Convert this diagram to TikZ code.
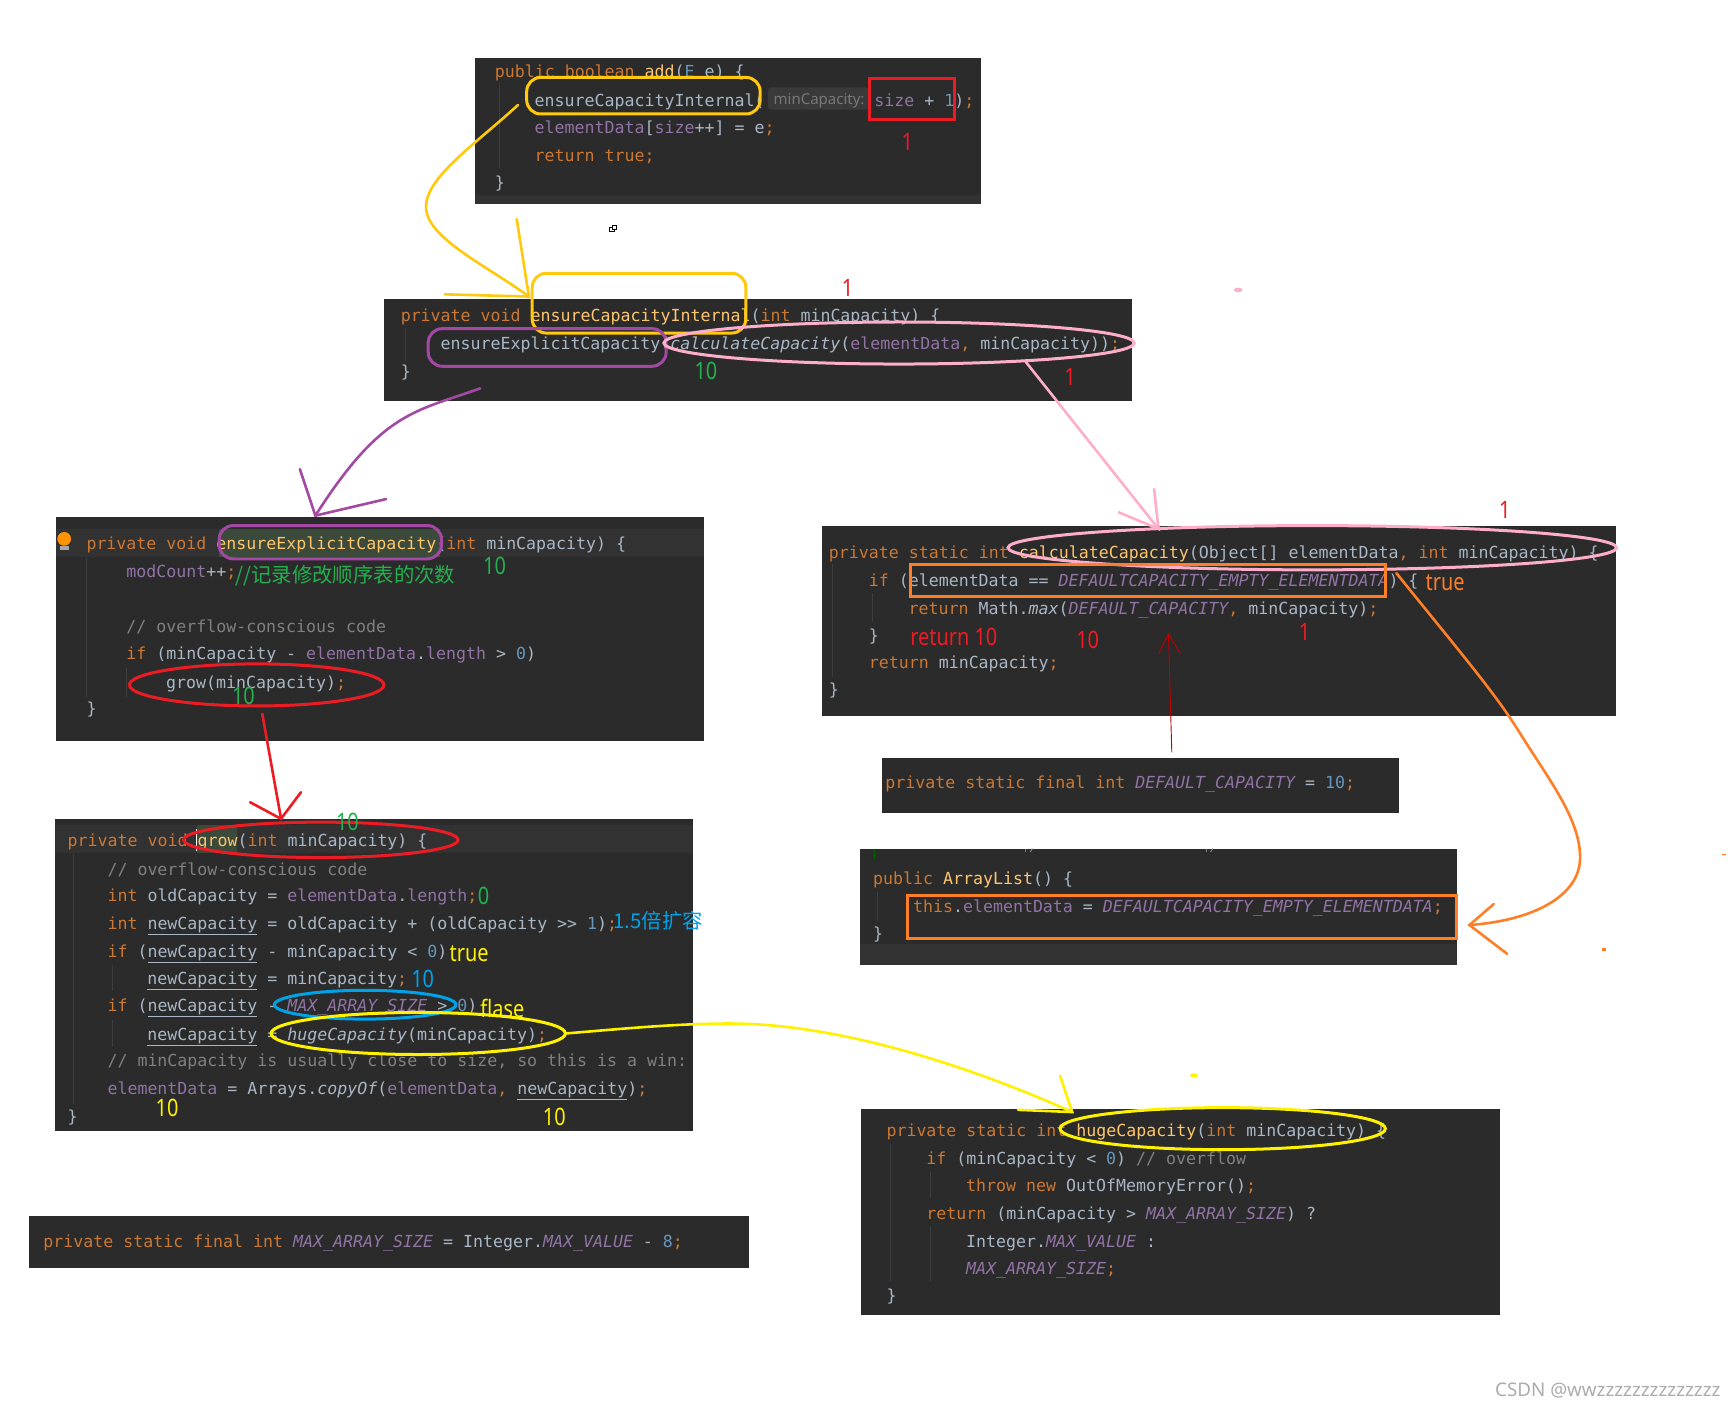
\documentclass[tikz,border=0pt]{standalone}
\usepackage{fontspec}
\usetikzlibrary{fit,shapes.geometric}
\newfontfamily\codefont{DejaVu Sans Mono}
\newfontfamily\handfont{Noto Sans CJK SC}
\newfontfamily\hintfont{Noto Sans}
\definecolor{panelbg}{HTML}{2B2B2B}
\definecolor{panellight}{HTML}{323232}
\definecolor{guide}{HTML}{3D3D3D}
\definecolor{chipbg}{HTML}{3A3A3A}
\definecolor{chipfg}{HTML}{787878}
\definecolor{codefg}{HTML}{A9B7C6}
\definecolor{kwcol}{HTML}{CC7832}
\definecolor{fldcol}{HTML}{9173A5}
\definecolor{numcol}{HTML}{6897BB}
\definecolor{comcol}{HTML}{808080}
\definecolor{metcol}{HTML}{FFC66D}
\definecolor{inkgold}{HTML}{FFC90E}
\definecolor{inkred}{HTML}{ED1C24}
\definecolor{inkpurple}{HTML}{A349A4}
\definecolor{inkpink}{HTML}{FFAEC9}
\definecolor{inkorange}{HTML}{FF7F27}
\definecolor{inkyellow}{HTML}{FFF200}
\definecolor{inkblue}{HTML}{00A2E8}
\definecolor{inkgreen}{HTML}{22B14C}
\definecolor{matchbg}{HTML}{3B4A3B}
\newcommand{\ckw}[1]{\textcolor{kwcol}{#1}}
\newcommand{\cfld}[1]{\textcolor{fldcol}{#1}}
\newcommand{\cital}[1]{\textcolor{fldcol}{\itshape #1}}
\newcommand{\cnum}[1]{\textcolor{numcol}{#1}}
\newcommand{\ccom}[1]{\textcolor{comcol}{#1}}
\newcommand{\cmet}[1]{\textcolor{metcol}{#1}}
\newcommand{\cund}[1]{\underline{#1}}
\newcommand{\codeline}[4]{\node[codeline] (#1) at ({#2},{#3+6}) {#4};}
\newcommand{\panel}[3]{\node[panelbox,fit={#2 #3}] (#1) {};}
\newcommand{\ann}[5]{\node[text=#4,font=\hintfont\fontsize{24}{26}\selectfont,inner sep=0] (#1) at (#2,#3) {\scalebox{.83}[1]{#5}};}
\newcommand{\guideline}[3]{\draw[guide,line width=.8pt] (#1,#2) -- (#1,#3);}
% name, colour, centre x, centre y, half width, half height (reference units)
\newcommand{\inkellipse}[6]{\node[inkell=#2,minimum width={2*#5*1.1065pt},minimum height={2*#6*1.1065pt}] (#1) at (#3,#4) {};}
\tikzset{
  x=1.1065pt,y=-1.1065pt,
  panelbox/.style={fill=panelbg,draw=none,inner sep=0,rectangle},
  codeline/.style={anchor=base west,inner sep=0,text=codefg,font=\codefont\fontsize{16.6}{18}\selectfont},
  inkbox/.style={draw=#1,line width=3pt,rounded corners=14pt,inner sep=0,rectangle},
  inkrect/.style={draw=#1,line width=3pt,inner sep=0,rectangle},
  inkell/.style={draw=#1,line width=3pt,inner sep=0,outer sep=0,ellipse},
  inkline/.style={draw=#1,line width=2.6pt,line cap=round},
  inkthin/.style={draw=#1,line width=.9pt},
}
\begin{document}
\begin{tikzpicture}
\useasboundingbox (0,0) rectangle (1568,1273.4);
\fill[white] (0,0) rectangle (1568,1273.4);

% panels
\panel{pa}{(429,52)}{(887,184.5)}
\fill[panellight] (429,176) rectangle (887,184.5);
\panel{pb}{(347,270)}{(1023,362.5)}
\panel{pc}{(51,467)}{(636,669.5)}
\fill[panellight] (51,478) rectangle (636,503);
\fill[matchbg] (198,478) rectangle (398,503);
\panel{pd}{(50,740)}{(626,1022.5)}
\fill[panellight] (50,746) rectangle (626,771);
\fill[matchbg] (178,746) rectangle (214,771);
\draw[white,line width=1pt] (178,749) -- (178,769);
\panel{pe}{(26,1099)}{(677,1145.5)}
\panel{pf}{(743,475)}{(1460,647.5)}
\panel{pg}{(797,685)}{(1264,734.5)}
\panel{ph}{(777,767)}{(1317,872.5)}
\fill[panellight] (777,853) rectangle (1317,872.5);
\panel{pi}{(778,1002)}{(1356,1188.5)}

% indent guides
\guideline{451}{76}{152}
\guideline{366}{296}{326}
\guideline{78}{504}{630}
\guideline{114}{604}{630}
\guideline{66}{772}{998}
\guideline{102}{872}{896}
\guideline{102}{922}{946}
\guideline{752}{510}{612}
\guideline{788}{536}{562}
\guideline{793}{806}{832}
\guideline{805}{1033}{1158}
\guideline{841}{1059}{1083}
\guideline{841}{1109}{1158}
\draw[green!40!black,line width=1pt] (790,767) -- (790,776);
\draw[comcol,line width=1pt] (927,767) -- (927,770);
\draw[comcol,line width=1pt] (931,770) -- (933,767);
\draw[comcol,line width=1pt] (1090,767) -- (1090,770);
\draw[comcol,line width=1pt] (1094,770) -- (1096,767);

% hint chip
\fill[chipbg,rounded corners=3pt] (694,79) rectangle (785,99);

% code: add
\codeline{a1}{447}{64}{\ckw{public boolean }\cmet{add}(\cnum{E} e) \{}
\codeline{a2}{483}{90}{ensureCapacityInternal(}
\node[anchor=base west,inner sep=0,text=chipfg,font=\hintfont\fontsize{15}{17}\selectfont] (hint) at (699,94.5) {minCapacity:};
\codeline{a2b}{790}{90}{\cfld{size} + \cnum{1})\ckw{;}}
\codeline{a3}{483}{115}{\cfld{elementData}[\cfld{size}++] = e\ckw{;}}
\codeline{a4}{483}{140}{\ckw{return true;}}
\codeline{a5}{447}{164}{\}}

% code: ensureCapacityInternal
\codeline{b1}{362}{285}{\ckw{private void }\cmet{ensureCapacityInternal}(\ckw{int} minCapacity) \{}
\codeline{b2}{398}{310}{ensureExplicitCapacity(\textit{calculateCapacity}(\cfld{elementData}\ckw{,} minCapacity))\ckw{;}}
\codeline{b3}{362}{335}{\}}

% code: ensureExplicitCapacity
\codeline{c1}{78}{491}{\ckw{private void }\cmet{ensureExplicitCapacity}(\ckw{int} minCapacity) \{}
\codeline{c2}{114}{516}{\cfld{modCount}++\ckw{;}}
\codeline{c3}{114}{566}{\ccom{// overflow-conscious code}}
\codeline{c4}{114}{590}{\ckw{if} (minCapacity - \cfld{elementData}.\cfld{length} > \cnum{0})}
\codeline{c5}{150}{616}{grow(minCapacity)\ckw{;}}
\codeline{c6}{78}{640}{\}}

% code: grow
\codeline{d1}{61}{759}{\ckw{private void }\cmet{grow}(\ckw{int} minCapacity) \{}
\codeline{d2}{97}{785}{\ccom{// overflow-conscious code}}
\codeline{d3}{97}{809}{\ckw{int} oldCapacity = \cfld{elementData}.\cfld{length}\ckw{;}}
\codeline{d4}{97}{834}{\ckw{int} \cund{newCapacity} = oldCapacity + (oldCapacity >> \cnum{1})\ckw{;}}
\codeline{d5}{97}{859}{\ckw{if} (\cund{newCapacity} - minCapacity < \cnum{0})}
\codeline{d6}{133}{884}{\cund{newCapacity} = minCapacity\ckw{;}}
\codeline{d7}{97}{908}{\ckw{if} (\cund{newCapacity} - \cital{MAX\_ARRAY\_SIZE} > \cnum{0})}
\codeline{d8}{133}{934}{\cund{newCapacity} = \textit{hugeCapacity}(minCapacity)\ckw{;}}
\codeline{d9}{97}{958}{\ccom{// minCapacity is usually close to size, so this is a win:}}
\codeline{d10}{97}{983}{\cfld{elementData} = Arrays.\textit{copyOf}(\cfld{elementData}\ckw{,} \cund{newCapacity})\ckw{;}}
\codeline{d11}{61}{1008}{\}}

% code: MAX_ARRAY_SIZE
\codeline{e1}{39}{1121}{\ckw{private static final int }\cital{MAX\_ARRAY\_SIZE} = Integer.\cital{MAX\_VALUE} - \cnum{8}\ckw{;}}

% code: calculateCapacity
\codeline{f1}{749}{499}{\ckw{private static int }\cmet{calculateCapacity}(Object[] elementData\ckw{, int} minCapacity) \{}
\codeline{f2}{785}{524}{\ckw{if} (elementData == \cital{DEFAULTCAPACITY\_EMPTY\_ELEMENTDATA}) \{}
\codeline{f3}{821}{549}{\ckw{return} Math.\textit{max}(\cital{DEFAULT\_CAPACITY}\ckw{,} minCapacity)\ckw{;}}
\codeline{f4}{785}{574}{\}}
\codeline{f5}{785}{598}{\ckw{return} minCapacity\ckw{;}}
\codeline{f6}{749}{623}{\}}

% code: DEFAULT_CAPACITY
\codeline{g1}{800}{707}{\ckw{private static final int }\cital{DEFAULT\_CAPACITY} = \cnum{10}\ckw{;}}

% code: ArrayList
\codeline{h1}{789}{793}{\ckw{public }\cmet{ArrayList}() \{}
\codeline{h2}{825}{819}{\ckw{this}.\cfld{elementData} = \cital{DEFAULTCAPACITY\_EMPTY\_ELEMENTDATA}\ckw{;}}
\codeline{h3}{789}{843}{\}}

% code: hugeCapacity
\codeline{i1}{801}{1021}{\ckw{private static int }\cmet{hugeCapacity}(\ckw{int} minCapacity) \{}
\codeline{i2}{837}{1046}{\ckw{if} (minCapacity < \cnum{0}) \ccom{// overflow}}
\codeline{i3}{873}{1071}{\ckw{throw new }OutOfMemoryError()\ckw{;}}
\codeline{i4}{837}{1096}{\ckw{return} (minCapacity > \cital{MAX\_ARRAY\_SIZE}) ?}
\codeline{i5}{873}{1121}{Integer.\cital{MAX\_VALUE} :}
\codeline{i6}{873}{1146}{\cital{MAX\_ARRAY\_SIZE}\ckw{;}}
\codeline{i7}{801}{1170}{\}}

% bulb
\fill[orange!85!yellow] (58,487) circle (6.2);
\fill[gray!70] (54,493) rectangle (62,497);

% ink outlines
\node[inkbox=inkgold,fit={(476,70)(687,103)}] (goldA) {};
\node[inkrect=inkred,fit={(786,71)(863,108)}] (redA) {};
\node[inkbox=inkgold,fit={(481,247)(674,301)}] (goldB) {};
\node[inkbox=inkpurple,fit={(387,297)(602,331)}] (purpleB) {};
\inkellipse{pinkB}{inkpink}{812.5}{310}{212.5}{19}
\node[inkbox=inkpurple,fit={(198,475)(399,505)}] (purpleC) {};
\inkellipse{redC}{inkred}{232}{619}{115}{19}
\inkellipse{redD}{inkred}{290}{759}{124}{16}
\inkellipse{blueD}{inkblue}{330}{908}{82}{13}
\inkellipse{yellowD}{inkyellow}{378}{934}{133}{19}
\inkellipse{pinkF}{inkpink}{1186}{495}{275}{20}
\node[inkrect=inkorange,fit={(823,510)(1252,539)}] (orangeF) {};
\node[inkrect=inkorange,fit={(820,809)(1316,848)}] (orangeH) {};
\inkellipse{yellowI}{inkyellow}{1105}{1020}{147}{19}

% connector ends
\coordinate (goldStart) at (468,95);
\coordinate (goldTip) at (478,268);
\coordinate (goldHeadA) at (467,198);
\coordinate (goldHeadB) at (402,266);
\coordinate (purpleStart) at (434,351);
\coordinate (purpleTip) at (285,466);
\coordinate (purpleHeadA) at (271,424);
\coordinate (purpleHeadB) at (349,451);
\coordinate (pinkStart) at (927,327);
\coordinate (pinkTip) at (1047,478);
\coordinate (pinkHeadA) at (1043,442);
\coordinate (pinkHeadB) at (1011,463);
\coordinate (redStart) at (237,645);
\coordinate (redTip) at (254,740);
\coordinate (redHeadA) at (226,725);
\coordinate (redHeadB) at (272,716);
\coordinate (yellowTip) at (969,1005);
\coordinate (yellowHeadA) at (958,972);
\coordinate (yellowHeadB) at (920,1003);
\coordinate (orangeStart) at (1262,518);
\coordinate (orangeTip) at (1328,836);
\coordinate (orangeHeadA) at (1350,817);
\coordinate (orangeHeadB) at (1362,862);
\coordinate (thinStart) at (1059,680);
\coordinate (thinTip) at (1056,573);
\coordinate (thinHeadA) at (1047,591);
\coordinate (thinHeadB) at (1067,591);

% connectors
\draw[inkline=inkgold] (goldStart) .. controls (430,130) and (385,160) .. (385,187)
  .. controls (385,215) and (440,240) .. (goldTip);
\draw[inkline=inkgold] (goldHeadA) -- (goldTip) -- (goldHeadB);

\draw[inkline=inkpurple] (purpleStart) .. controls (375,372) and (345,372) .. (purpleTip);
\draw[inkline=inkpurple] (purpleHeadA) -- (purpleTip) -- (purpleHeadB);

\draw[inkline=inkpink] (pinkStart) -- (pinkTip);
\draw[inkline=inkpink] (pinkHeadA) -- (pinkTip) -- (pinkHeadB);

\draw[inkline=inkred] (redStart) -- (redTip);
\draw[inkline=inkred] (redHeadA) -- (redTip) -- (redHeadB);

\draw[inkline=inkyellow] (yellowD.east) .. controls (560,930) and (610,925) .. (660,925)
  .. controls (760,925) and (880,965) .. (yellowTip);
\draw[inkline=inkyellow] (yellowHeadA) -- (yellowTip) -- (yellowHeadB);

\draw[inkline=inkorange] (orangeStart) .. controls (1320,590) and (1350,625) .. (1372,660)
  .. controls (1400,705) and (1428,740) .. (1428,775)
  .. controls (1428,810) and (1385,832) .. (orangeTip);
\draw[inkline=inkorange] (orangeHeadA) -- (orangeTip) -- (orangeHeadB);

\draw[inkthin=red!75!black] (thinStart) -- (thinTip);
\draw[inkthin=red!75!black] (thinHeadA) -- (thinTip) -- (thinHeadB);

% stray marks
\fill[inkpink] (1119,262) ellipse (4 and 2);
\fill[inkyellow] (1079,972) ellipse (3.5 and 2);
\fill[inkorange] (1448,856.5) rectangle (1451,859.5);
\fill[inkorange] (1556,771.5) rectangle (1560,773);
\draw[black,line width=.6pt] (551,205) rectangle (555,209);
\draw[black,line width=.6pt,fill=white] (553,203.5) rectangle (557,207.5);

% annotations
\ann{n1}{820}{128}{inkred}{1}
\ann{n2}{766}{260}{inkred}{1}
\ann{n3}{638}{335}{inkgreen}{10}
\ann{n4}{967}{341}{inkred}{1}
\ann{n5}{447}{511}{inkgreen}{10}
\node[text=inkgreen,font=\handfont\fontsize{20.4}{22}\selectfont,inner sep=0] (n6) at (312,520) {//记录修改顺序表的次数};
\ann{n7}{220}{629}{inkgreen}{10}
\ann{n8}{314}{743}{inkgreen}{10}
\ann{n9}{437}{810}{inkgreen}{0}
\node[text=inkblue,font=\handfont\fontsize{20.4}{22}\selectfont,inner sep=0] (n10) at (595,832) {1.5倍扩容};
\ann{n11}{424}{862}{inkyellow}{true}
\ann{n12}{382}{885}{inkblue}{10}
\ann{n13}{454}{911}{inkyellow}{flase}
\ann{n14}{151}{1001}{inkyellow}{10}
\ann{n15}{501}{1009}{inkyellow}{10}
\ann{n16}{1360}{461}{inkred}{1}
\ann{n17}{1306}{527}{inkorange}{true}
\ann{n18}{862}{576}{inkred}{return 10}
\ann{n19}{983}{578}{inkred}{10}
\ann{n20}{1179}{571}{inkred}{1}

% watermark
\node[anchor=east,inner sep=0,text=gray!65,font=\hintfont\fontsize{18.8}{21}\selectfont] (mark) at (1555,1257) {CSDN @wwzzzzzzzzzzzzzz};
\end{tikzpicture}
\end{document}
